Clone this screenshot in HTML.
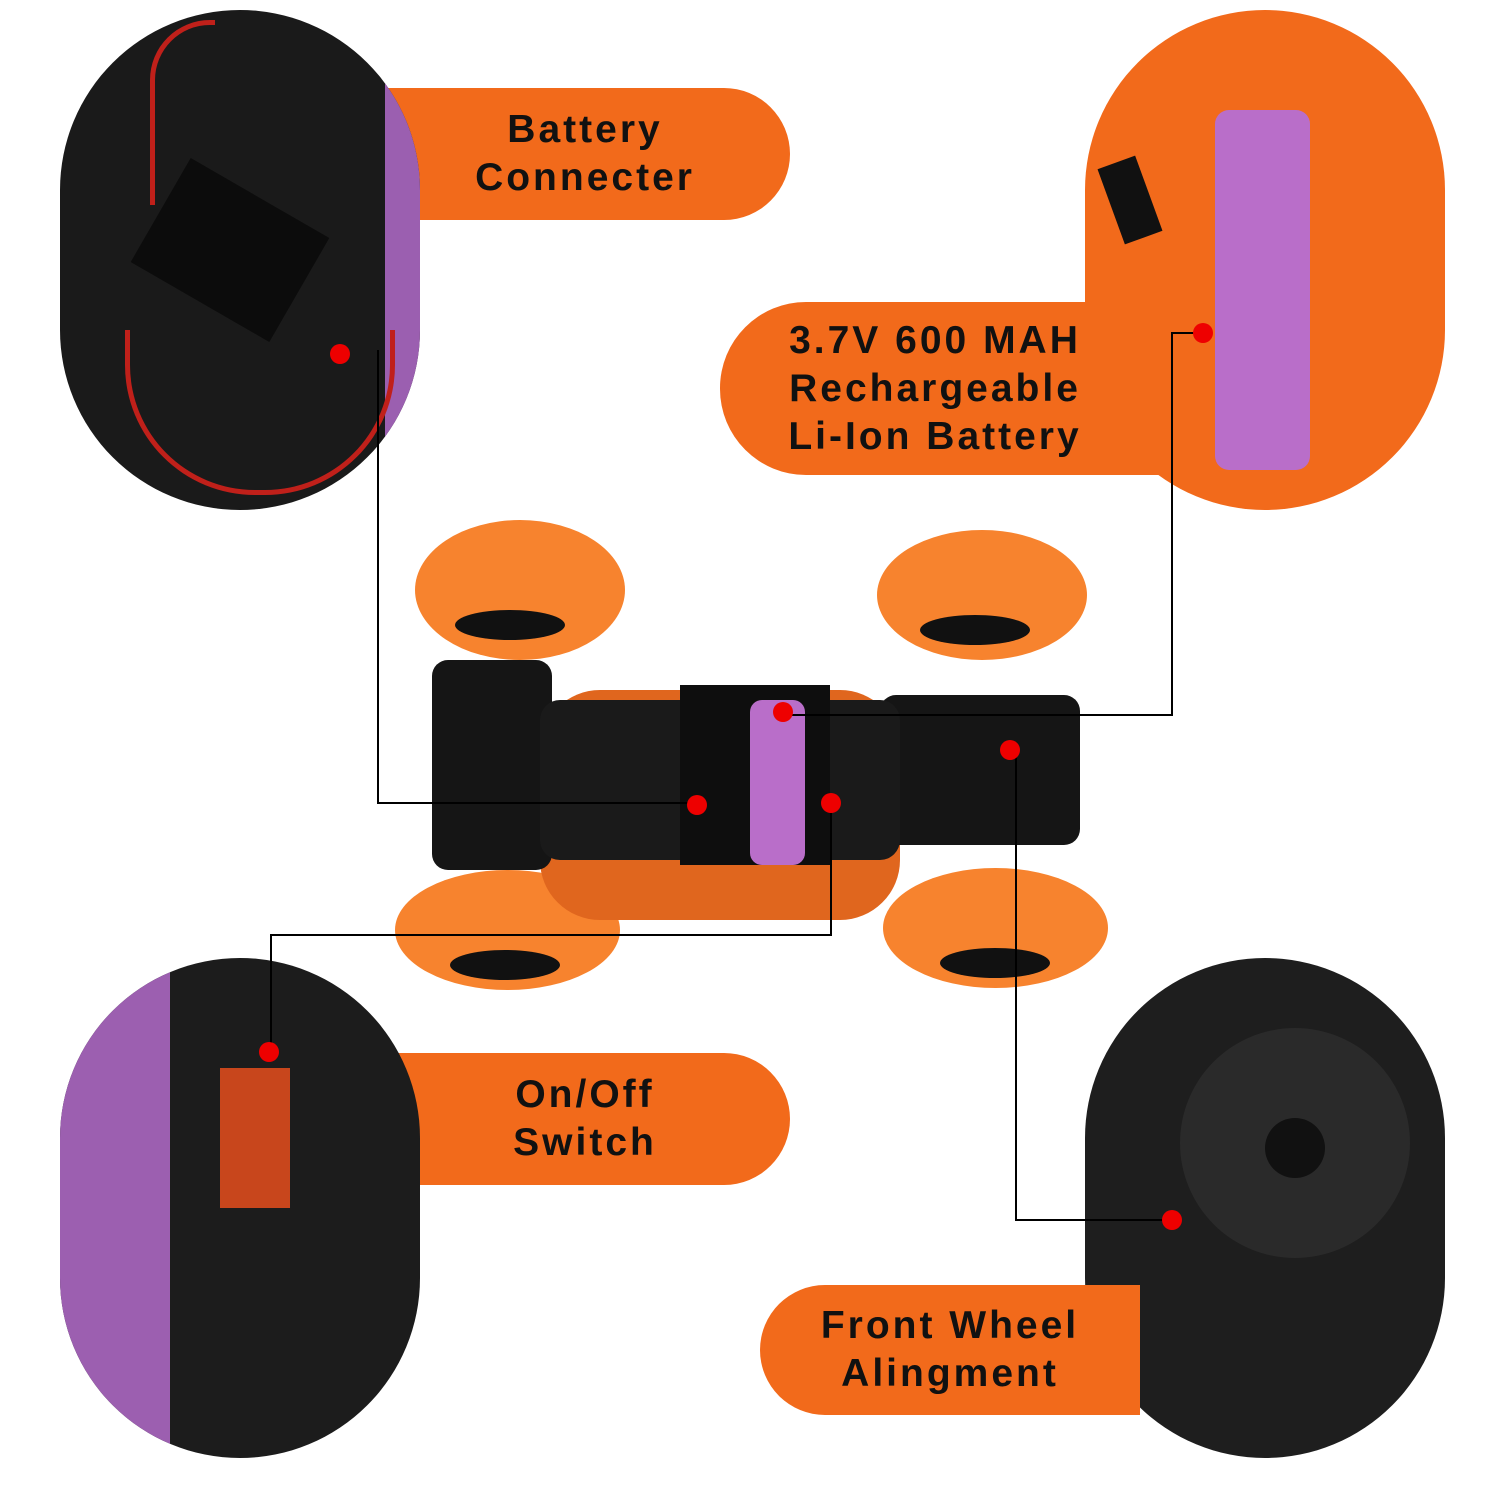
<!DOCTYPE html>
<html><head><meta charset="utf-8"><style>
body{margin:0;width:1500px;height:1500px;background:#fff;position:relative;overflow:hidden;font-family:"Liberation Sans",sans-serif}
.a{position:absolute}
.lbl{position:absolute;background:#f26a1b;color:#111;font-weight:bold;font-size:39px;letter-spacing:3px;line-height:48px;display:flex;align-items:center;justify-content:center;text-align:center}
</style></head><body>
<!-- top-left panel -->
<div class="lbl" style="left:380px;top:88px;width:410px;height:132px;border-radius:0 66px 66px 0">Battery<br>Connecter</div>
<div class="a" style="left:60px;top:10px;width:360px;height:500px;border-radius:180px;overflow:hidden;background:#1a1a1a">
 <div class="a" style="left:325px;top:0;width:40px;height:500px;background:#9b5fb0"></div>
 <div class="a" style="left:90px;top:180px;width:160px;height:120px;background:#0c0c0c;transform:rotate(30deg)"></div>
 <div class="a" style="left:65px;top:320px;width:260px;height:160px;border:5px solid #c0201a;border-top:none;border-radius:0 0 130px 130px"></div>
 <div class="a" style="left:90px;top:10px;width:60px;height:180px;border:5px solid #c0201a;border-right:none;border-bottom:none;border-radius:60px 0 0 0"></div>
</div>
<!-- top-right -->
<div class="a" style="left:1085px;top:10px;width:360px;height:500px;border-radius:180px;background:#f26a1b"></div>
<div class="lbl" style="left:720px;top:302px;width:480px;height:173px;border-radius:86px 0 0 86px;padding-right:50px;box-sizing:border-box">3.7V 600 MAH<br>Rechargeable<br>Li-Ion Battery</div>
<div class="a" style="left:1215px;top:110px;width:95px;height:360px;border-radius:14px;background:#b96ec9"></div>
<div class="a" style="left:1110px;top:160px;width:40px;height:80px;background:#111;transform:rotate(-20deg)"></div>
<!-- bottom-left -->
<div class="lbl" style="left:380px;top:1053px;width:410px;height:132px;border-radius:0 66px 66px 0">On/Off<br>Switch</div>
<div class="a" style="left:60px;top:958px;width:360px;height:500px;border-radius:180px;overflow:hidden;background:#1c1c1c">
 <div class="a" style="left:0;top:0;width:110px;height:500px;background:#9c5fb0"></div>
 <div class="a" style="left:160px;top:110px;width:70px;height:140px;background:#c8461c"></div>
</div>
<!-- bottom-right -->
<div class="a" style="left:1085px;top:958px;width:360px;height:500px;border-radius:180px;overflow:hidden;background:#1e1e1e">
 <div class="a" style="left:95px;top:70px;width:230px;height:230px;border-radius:50%;background:#2a2a2a"></div>
 <div class="a" style="left:180px;top:160px;width:60px;height:60px;border-radius:50%;background:#111"></div>
</div>
<div class="lbl" style="left:760px;top:1285px;width:380px;height:130px;border-radius:65px 0 0 65px">Front Wheel<br>Alingment</div>
<!-- car -->
<div class="a" style="left:415px;top:520px;width:210px;height:140px;border-radius:50%;background:#f7832e"></div>
<div class="a" style="left:877px;top:530px;width:210px;height:130px;border-radius:50%;background:#f7832e"></div>
<div class="a" style="left:455px;top:610px;width:110px;height:30px;border-radius:50%;background:#111"></div>
<div class="a" style="left:920px;top:615px;width:110px;height:30px;border-radius:50%;background:#111"></div>
<div class="a" style="left:395px;top:870px;width:225px;height:120px;border-radius:50%;background:#f7832e"></div>
<div class="a" style="left:883px;top:868px;width:225px;height:120px;border-radius:50%;background:#f7832e"></div>
<div class="a" style="left:450px;top:950px;width:110px;height:30px;border-radius:50%;background:#111"></div>
<div class="a" style="left:940px;top:948px;width:110px;height:30px;border-radius:50%;background:#111"></div>
<div class="a" style="left:540px;top:690px;width:360px;height:230px;background:#e0661e;border-radius:60px"></div>
<div class="a" style="left:432px;top:660px;width:120px;height:210px;background:#151515;border-radius:16px"></div>
<div class="a" style="left:880px;top:695px;width:200px;height:150px;background:#151515;border-radius:16px"></div>
<div class="a" style="left:540px;top:700px;width:360px;height:160px;background:#1a1a1a;border-radius:20px"></div>
<div class="a" style="left:680px;top:685px;width:150px;height:180px;background:#0e0e0e"></div>
<div class="a" style="left:750px;top:700px;width:55px;height:165px;border-radius:12px;background:#b96ec9"></div>
<!-- lines -->
<svg class="a" style="left:0;top:0" width="1500" height="1500">
<g fill="none" stroke="#000" stroke-width="2">
<polyline points="378,350 378,803 697,803"/>
<polyline points="1203,333 1172,333 1172,715 783,715"/>
<polyline points="831,803 831,935 271,935 271,1052"/>
<polyline points="1010,750 1016,750 1016,1220 1172,1220"/>
</g>
<g fill="#e00">
<circle cx="340" cy="354" r="10"/><circle cx="697" cy="805" r="10"/>
<circle cx="1203" cy="333" r="10"/><circle cx="783" cy="712" r="10"/>
<circle cx="831" cy="803" r="10"/><circle cx="269" cy="1052" r="10"/>
<circle cx="1010" cy="750" r="10"/><circle cx="1172" cy="1220" r="10"/>
</g></svg>
</body></html>
